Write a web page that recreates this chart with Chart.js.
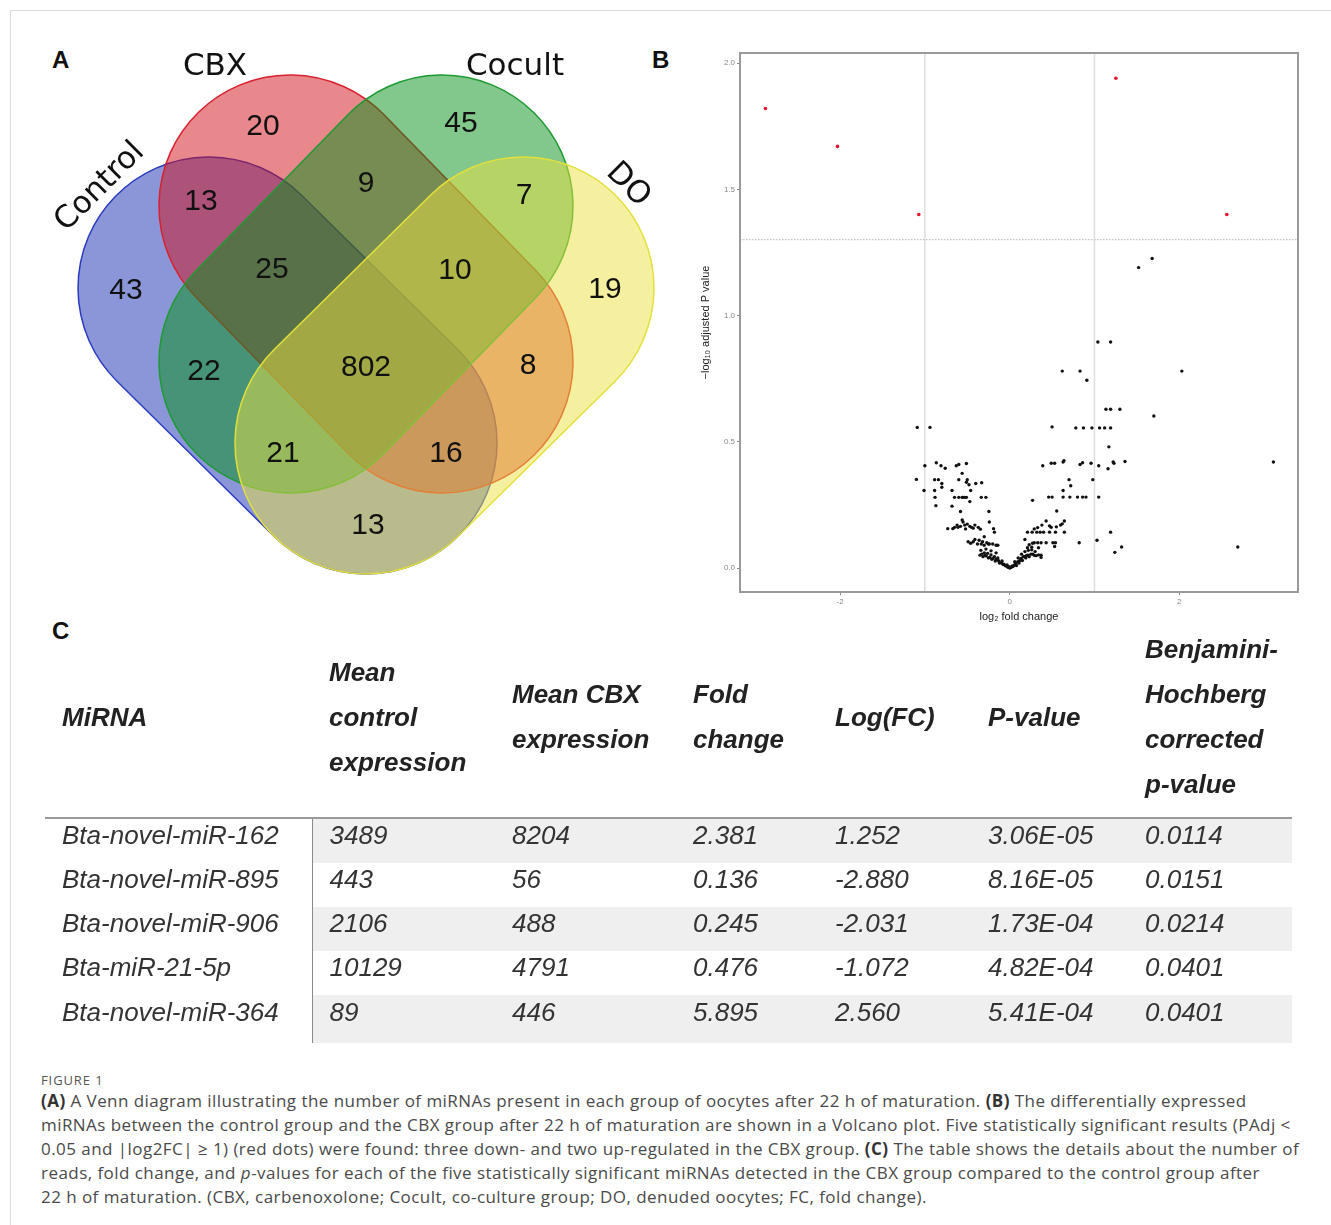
<!DOCTYPE html>
<html>
<head>
<meta charset="utf-8">
<script src="https://cdn.jsdelivr.net/npm/chart.js@4.4.1/dist/chart.umd.min.js"></script>
<style>
body{margin:0;background:#fff;width:1331px;height:1225px;position:relative;overflow:hidden;font-family:'Liberation Sans',Arial,sans-serif;}
#frame{position:absolute;left:10px;top:10px;width:1330px;height:1230px;border-left:1px solid #dcdcdc;border-top:1px solid #dcdcdc;}
.panel{position:absolute;font:bold 24px 'Liberation Sans',Arial,sans-serif;color:#111;line-height:24px;}
#vennBox{position:absolute;left:0;top:20px;}
#volcBox{position:absolute;left:690px;top:30px;}
#tbl{position:absolute;left:45px;top:627px;border-collapse:collapse;table-layout:fixed;width:1247px;}
#tbl th{font:bold italic 26px 'Liberation Sans',Arial,sans-serif;color:#222;text-align:left;vertical-align:middle;line-height:45px;height:176px;padding:0 0 10px 17px;border-bottom:2px solid #9a9a9a;}
#tbl td{font:italic 26px 'Liberation Sans',Arial,sans-serif;color:#333;height:31px;padding:0 0 13px 17px;line-height:30px;vertical-align:middle;white-space:nowrap;}
#tbl tr.sh td{background:#efefef;}
#tbl tr.sh td:first-child{background:#fff;}
#tbl td:first-child{border-right:1.5px solid #8a8a8a;}
#tbl tr.last td{height:33px;padding-bottom:15px;}
#cap{position:absolute;left:41px;top:1071px;font-family:'Open Sans','Noto Sans',sans-serif;color:#4a4a4a;}
#cap .fig{font-size:13px;letter-spacing:0.9px;color:#555;line-height:18px;}
#cap .ln{font-size:17px;letter-spacing:0.45px;line-height:24px;white-space:nowrap;}
#cap b{color:#333;}
</style>
</head>
<body>
<div id="frame"></div>
<div class="panel" style="left:52px;top:48px;">A</div>
<div class="panel" style="left:652px;top:48px;">B</div>
<div class="panel" style="left:52px;top:619px;">C</div>

<div id="vennBox"><canvas id="venn" width="690" height="590"></canvas></div>
<div id="volcBox"><canvas id="volcano" width="620" height="600"></canvas></div>

<table id="tbl">
<colgroup><col style="width:267px"><col style="width:183px"><col style="width:181px"><col style="width:142px"><col style="width:153px"><col style="width:157px"><col style="width:164px"></colgroup>
<thead id="thead"></thead>
<tbody id="tbody"></tbody>
</table>

<div id="cap">
<div class="fig">FIGURE 1</div>
<div class="ln"><b>(A)</b> A Venn diagram illustrating the number of miRNAs present in each group of oocytes after 22 h of maturation. <b>(B)</b> The differentially expressed</div>
<div class="ln">miRNAs between the control group and the CBX group after 22 h of maturation are shown in a Volcano plot. Five statistically significant results (PAdj &lt;</div>
<div class="ln">0.05 and |log2FC| ≥ 1) (red dots) were found: three down- and two up-regulated in the CBX group. <b>(C)</b> The table shows the details about the number of</div>
<div class="ln">reads, fold change, and <i>p</i>-values for each of the five statistically significant miRNAs detected in the CBX group compared to the control group after</div>
<div class="ln">22 h of maturation. (CBX, carbenoxolone; Cocult, co-culture group; DO, denuded oocytes; FC, fold change).</div>
</div>

<script>
// ---- Venn (A) ----
const vennSets = ['Control', 'CBX', 'Cocult', 'DO'];
const vennCounts = [43, 20, 45, 19, 13, 9, 7, 25, 10, 22, 802, 8, 21, 16, 13];

// layout (venn units, centre of diagram = 0,0)
const vennLabelPos = [[-240,74],[-103,238],[95,241],[239,75],[-165,163],[0,181],[158,169],
  [-94,95],[89,94],[-162,-7],[0,-3],[162,-1],[-83,-89],[80,-89],[2,-161]];
const vennShapes = [
  {c1:[-157,77], c2:[0,-78], fill:'rgba(21,45,175,0.5)', line:'#2a3bbf'},
  {c1:[-76,159], c2:[76,3], fill:'rgba(209,15,25,0.5)', line:'#d8202e'},
  {c1:[76,159], c2:[-76,3], fill:'rgba(5,145,25,0.5)', line:'#1f9a32'},
  {c1:[157,77], c2:[0,-78], fill:'rgba(235,225,65,0.5)', line:'#e2e03a'}
];
const vennRadius = 131;
const vennSetPos = [[-266,178,-45],[-151,298,0],[149,298,0],[262,180,45]];

const vennPlugin = {
  id: 'venn',
  beforeDatasetsDraw(chart) {
    const ctx = chart.ctx, xs = chart.scales.x, ys = chart.scales.y;
    const r = Math.abs(xs.getPixelForValue(vennRadius) - xs.getPixelForValue(0));
    vennShapes.forEach(s => {
      const x1 = xs.getPixelForValue(s.c1[0]), y1 = ys.getPixelForValue(s.c1[1]);
      const x2 = xs.getPixelForValue(s.c2[0]), y2 = ys.getPixelForValue(s.c2[1]);
      const a = Math.atan2(y2 - y1, x2 - x1);
      ctx.save();
      ctx.beginPath();
      ctx.arc(x1, y1, r, a + Math.PI / 2, a + 3 * Math.PI / 2);
      ctx.arc(x2, y2, r, a - Math.PI / 2, a + Math.PI / 2);
      ctx.closePath();
      ctx.fillStyle = s.fill;
      ctx.fill();
      ctx.lineWidth = 1.5;
      ctx.strokeStyle = s.line;
      ctx.stroke();
      ctx.restore();
    });
  },
  afterDatasetsDraw(chart) {
    const ctx = chart.ctx, xs = chart.scales.x, ys = chart.scales.y;
    const meta = chart.getDatasetMeta(0);
    ctx.save();
    ctx.fillStyle = '#111';
    ctx.textAlign = 'center';
    ctx.textBaseline = 'middle';
    ctx.font = '30px "Liberation Sans", Arial, sans-serif';
    meta.data.forEach((pt, i) => ctx.fillText(String(vennCounts[i]), pt.x, pt.y));
    ctx.font = '31px "DejaVu Sans", sans-serif';
    vennSets.forEach((name, i) => {
      const p = vennSetPos[i];
      ctx.save();
      ctx.translate(xs.getPixelForValue(p[0]), ys.getPixelForValue(p[1]));
      ctx.rotate(p[2] * Math.PI / 180);
      ctx.fillText(name, 0, 0);
      ctx.restore();
    });
    ctx.restore();
  }
};

new Chart(document.getElementById('venn'), {
  type: 'scatter',
  data: { datasets: [{ data: vennLabelPos.map(p => ({ x: p[0], y: p[1] })), pointRadius: 0 }] },
  options: {
    responsive: false, animation: false, events: [],
    layout: { padding: 0 },
    plugins: { legend: { display: false }, tooltip: { enabled: false } },
    scales: {
      x: { type: 'linear', display: false, min: -366, max: 324 },
      y: { type: 'linear', display: false, min: -245, max: 345 }
    }
  },
  plugins: [vennPlugin]
});

// ---- Volcano (B) ----
const sigLogFC = [-2.880, -2.031, -1.072, 1.252, 2.560];
const sigNegLogP = [1.82, 1.67, 1.40, 1.94, 1.40];

const otherLogFC = [
  -1.09,-0.94,
  -1.00,-0.865,-0.81,-0.76,-0.63,-0.60,-0.51,-0.56,
  -1.10,-0.885,-0.84,-0.80,-0.80,-0.60,-0.51,-0.48,-0.50,-0.40,-0.33,
  -1.01,-0.885,-0.68,-0.46,
  -0.88,-0.65,-0.60,-0.56,-0.51,-0.47,-0.335,-0.28,-0.55,-0.53,
  -0.87,-0.68,-0.58,-0.245,
  -0.73,-0.67,-0.65,-0.61,-0.55,-0.53,-0.50,-0.45,-0.41,-0.37,-0.345,-0.24,-0.19,-0.18,-0.58,-0.56,-0.47,-0.43,-0.52,-0.62,
  -0.49,-0.43,-0.41,-0.38,-0.335,-0.32,-0.30,-0.30,-0.25,-0.24,-0.20,-0.16,-0.14,-0.46,-0.36,-0.27,
  -0.34,-0.28,-0.22,-0.16,
  -0.35,-0.33,-0.315,-0.30,-0.29,-0.276,-0.26,-0.25,-0.237,-0.22,-0.21,-0.198,-0.18,-0.17,-0.159,-0.14,-0.131,-0.12,-0.10,-0.09,-0.08,-0.068,-0.055,-0.041,-0.03,-0.02,-0.01,0.0,
  0.01,0.018,0.03,0.04,0.057,0.07,0.08,0.096,0.11,0.12,0.135,0.15,0.16,0.174,0.19,0.2,0.214,0.23,0.25,0.273,0.29,0.312,0.34,0.37,0.06,0.1,0.14,0.18,0.22,0.26,0.3,
  0.29,0.33,0.37,0.43,0.51,0.54,0.82,1.03,0.53,0.18,0.21,0.26,0.34,0.37,1.32,1.24,2.69,0.23,0.27,
  0.21,0.265,0.32,0.36,0.40,0.47,0.54,0.645,1.19,
  0.43,0.38,0.645,0.60,0.55,0.49,0.47,0.33,0.29,0.62,
  0.555,
  0.46,0.50,0.63,0.71,0.80,0.86,0.90,1.05,0.27,
  0.63,
  0.70,0.98,0.72,
  0.39,0.49,0.53,0.63,0.83,0.86,0.96,1.05,1.16,1.22,1.23,1.36,0.64,
  3.11,
  1.17,
  0.50,0.78,0.87,0.97,1.06,1.12,1.19,
  1.70,
  1.135,1.19,1.30,
  0.62,0.83,0.91,2.03,
  1.04,1.19,
  1.52,1.68
];
const otherNegLogP = [
  0.557,0.557,
  0.405,0.417,0.405,0.395,0.405,0.41,0.414,0.375,
  0.351,0.35,0.35,0.335,0.32,0.35,0.34,0.33,0.35,0.335,0.338,
  0.307,0.307,0.307,0.307,
  0.28,0.28,0.28,0.28,0.28,0.263,0.28,0.28,0.28,0.28,
  0.247,0.245,0.224,0.224,
  0.156,0.156,0.161,0.161,0.182,0.17,0.174,0.161,0.17,0.161,0.154,0.182,0.156,0.142,0.165,0.19,0.165,0.158,0.155,0.17,
  0.104,0.104,0.113,0.095,0.095,0.104,0.09,0.124,0.095,0.095,0.095,0.09,0.09,0.098,0.11,0.10,
  0.07,0.075,0.068,0.06,
  0.051,0.055,0.045,0.06,0.05,0.048,0.058,0.04,0.042,0.052,0.035,0.038,0.045,0.028,0.034,0.04,0.029,0.02,0.021,0.028,0.015,0.015,0.01,0.008,0.012,0.003,0.005,0.0,
  0.002,0.003,0.008,0.006,0.012,0.018,0.01,0.025,0.02,0.03,0.038,0.03,0.045,0.045,0.04,0.05,0.051,0.045,0.055,0.055,0.05,0.049,0.052,0.051,0.025,0.04,0.055,0.065,0.07,0.072,0.065,
  0.10,0.10,0.10,0.10,0.10,0.10,0.10,0.11,0.085,0.113,0.08,0.082,0.08,0.042,0.083,0.062,0.083,0.092,0.098,
  0.142,0.142,0.142,0.142,0.142,0.142,0.142,0.142,0.142,
  0.186,0.17,0.186,0.17,0.163,0.161,0.167,0.16,0.155,0.175,
  0.226,
  0.281,0.281,0.281,0.281,0.281,0.281,0.281,0.281,0.268,
  0.307,
  0.35,0.35,0.326,
  0.405,0.415,0.415,0.42,0.41,0.417,0.415,0.405,0.393,0.42,0.415,0.422,0.425,
  0.42,
  0.48,
  0.559,0.555,0.555,0.555,0.555,0.555,0.555,
  0.602,
  0.629,0.629,0.629,
  0.78,0.78,0.744,0.78,
  0.895,0.895,
  1.19,1.226
];

const xTickVals = [-2, 0, 2];
const yTickVals = [0, 0.5, 1.0, 1.5, 2.0];
const fcCutoffs = [-1, 1];
const padjCutoff = 1.301; // -log10(0.05)

const volcanoPlugin = {
  id: 'volcanoGuides',
  beforeDatasetsDraw(chart) {
    const ctx = chart.ctx, a = chart.chartArea, xs = chart.scales.x, ys = chart.scales.y;
    ctx.save();
    ctx.strokeStyle = '#dedede';
    ctx.lineWidth = 1.5;
    fcCutoffs.forEach(v => {
      const px = xs.getPixelForValue(v);
      ctx.beginPath(); ctx.moveTo(px, a.top); ctx.lineTo(px, a.bottom); ctx.stroke();
    });
    const py = ys.getPixelForValue(padjCutoff);
    ctx.strokeStyle = '#c4c4c4';
    ctx.lineWidth = 1.2;
    ctx.setLineDash([1.5, 1.5]);
    ctx.beginPath(); ctx.moveTo(a.left, py); ctx.lineTo(a.right, py); ctx.stroke();
    ctx.restore();
  },
  afterDraw(chart) {
    const ctx = chart.ctx, a = chart.chartArea;
    ctx.save();
    ctx.strokeStyle = '#9a9a9a';
    ctx.lineWidth = 2;
    ctx.strokeRect(a.left, a.top, a.right - a.left, a.bottom - a.top);
    ctx.restore();
  }
};

new Chart(document.getElementById('volcano'), {
  type: 'scatter',
  data: {
    datasets: [
      {
        label: 'significant',
        data: sigLogFC.map((v, i) => ({ x: v, y: sigNegLogP[i] })),
        pointRadius: 1.8, pointBackgroundColor: '#e3122f', pointBorderWidth: 0, order: 0
      },
      {
        label: 'other',
        data: otherLogFC.map((v, i) => ({ x: v, y: otherNegLogP[i] })),
        pointRadius: 1.7, pointBackgroundColor: '#111', pointBorderWidth: 0, order: 1
      }
    ]
  },
  options: {
    responsive: false, animation: false, events: [],
    layout: { padding: { top: 23, right: 12, left: 0, bottom: 0 } },
    plugins: { legend: { display: false }, tooltip: { enabled: false } },
    scales: {
      x: {
        type: 'linear', min: -3.18, max: 3.4,
        afterBuildTicks: s => { s.ticks = xTickVals.map(v => ({ value: v })); },
        afterFit: s => { s.height = 38; },
        grid: { drawOnChartArea: false, drawTicks: true, tickLength: 3, color: '#888', lineWidth: 1 },
        border: { display: false },
        ticks: { color: '#888', font: { size: 8, family: 'Liberation Sans' }, padding: 2, maxRotation: 0 },
        title: { display: true, text: 'log₂ fold change', color: '#222',
          font: { size: 11, family: 'Liberation Sans, DejaVu Sans' }, padding: { top: 0, bottom: 6 } }
      },
      y: {
        type: 'linear', min: -0.095, max: 2.04,
        afterBuildTicks: s => { s.ticks = yTickVals.map(v => ({ value: v })); },
        afterFit: s => { s.width = 50; },
        grid: { drawOnChartArea: false, drawTicks: true, tickLength: 3, color: '#888', lineWidth: 1 },
        border: { display: false },
        ticks: { color: '#888', font: { size: 8, family: 'Liberation Sans' }, padding: 2,
          callback: v => Number(v).toFixed(1) },
        title: { display: true, text: '−log₁₀ adjusted P value', color: '#222',
          font: { size: 11, family: 'Liberation Sans, DejaVu Sans' }, padding: { top: 9, bottom: 0 } }
      }
    }
  },
  plugins: [volcanoPlugin]
});

// ---- Table (C) ----
const tableHeader = ['MiRNA', 'Mean<br>control<br>expression', 'Mean CBX<br>expression', 'Fold<br>change',
  'Log(FC)', 'P-value', 'Benjamini-<br>Hochberg<br>corrected<br>p-value'];
const mirnaNames = ['Bta-novel-miR-162', 'Bta-novel-miR-895', 'Bta-novel-miR-906', 'Bta-miR-21-5p', 'Bta-novel-miR-364'];
const meanControl = ['3489', '443', '2106', '10129', '89'];
const meanCBX = ['8204', '56', '488', '4791', '446'];
const foldChange = ['2.381', '0.136', '0.245', '0.476', '5.895'];
const logFC = ['1.252', '-2.880', '-2.031', '-1.072', '2.560'];
const pValue = ['3.06E-05', '8.16E-05', '1.73E-04', '4.82E-04', '5.41E-04'];
const bhPValue = ['0.0114', '0.0151', '0.0214', '0.0401', '0.0401'];

document.getElementById('thead').innerHTML = '<tr>' + tableHeader.map(h => '<th>' + h + '</th>').join('') + '</tr>';
document.getElementById('tbody').innerHTML = mirnaNames.map((n, i) => {
  const cls = [(i % 2 === 0) ? 'sh' : '', i === mirnaNames.length - 1 ? 'last' : ''].join(' ');
  return '<tr class="' + cls + '">' + [n, meanControl[i], meanCBX[i], foldChange[i], logFC[i], pValue[i], bhPValue[i]]
    .map(c => '<td>' + c + '</td>').join('') + '</tr>';
}).join('');
</script>
</body>
</html>
